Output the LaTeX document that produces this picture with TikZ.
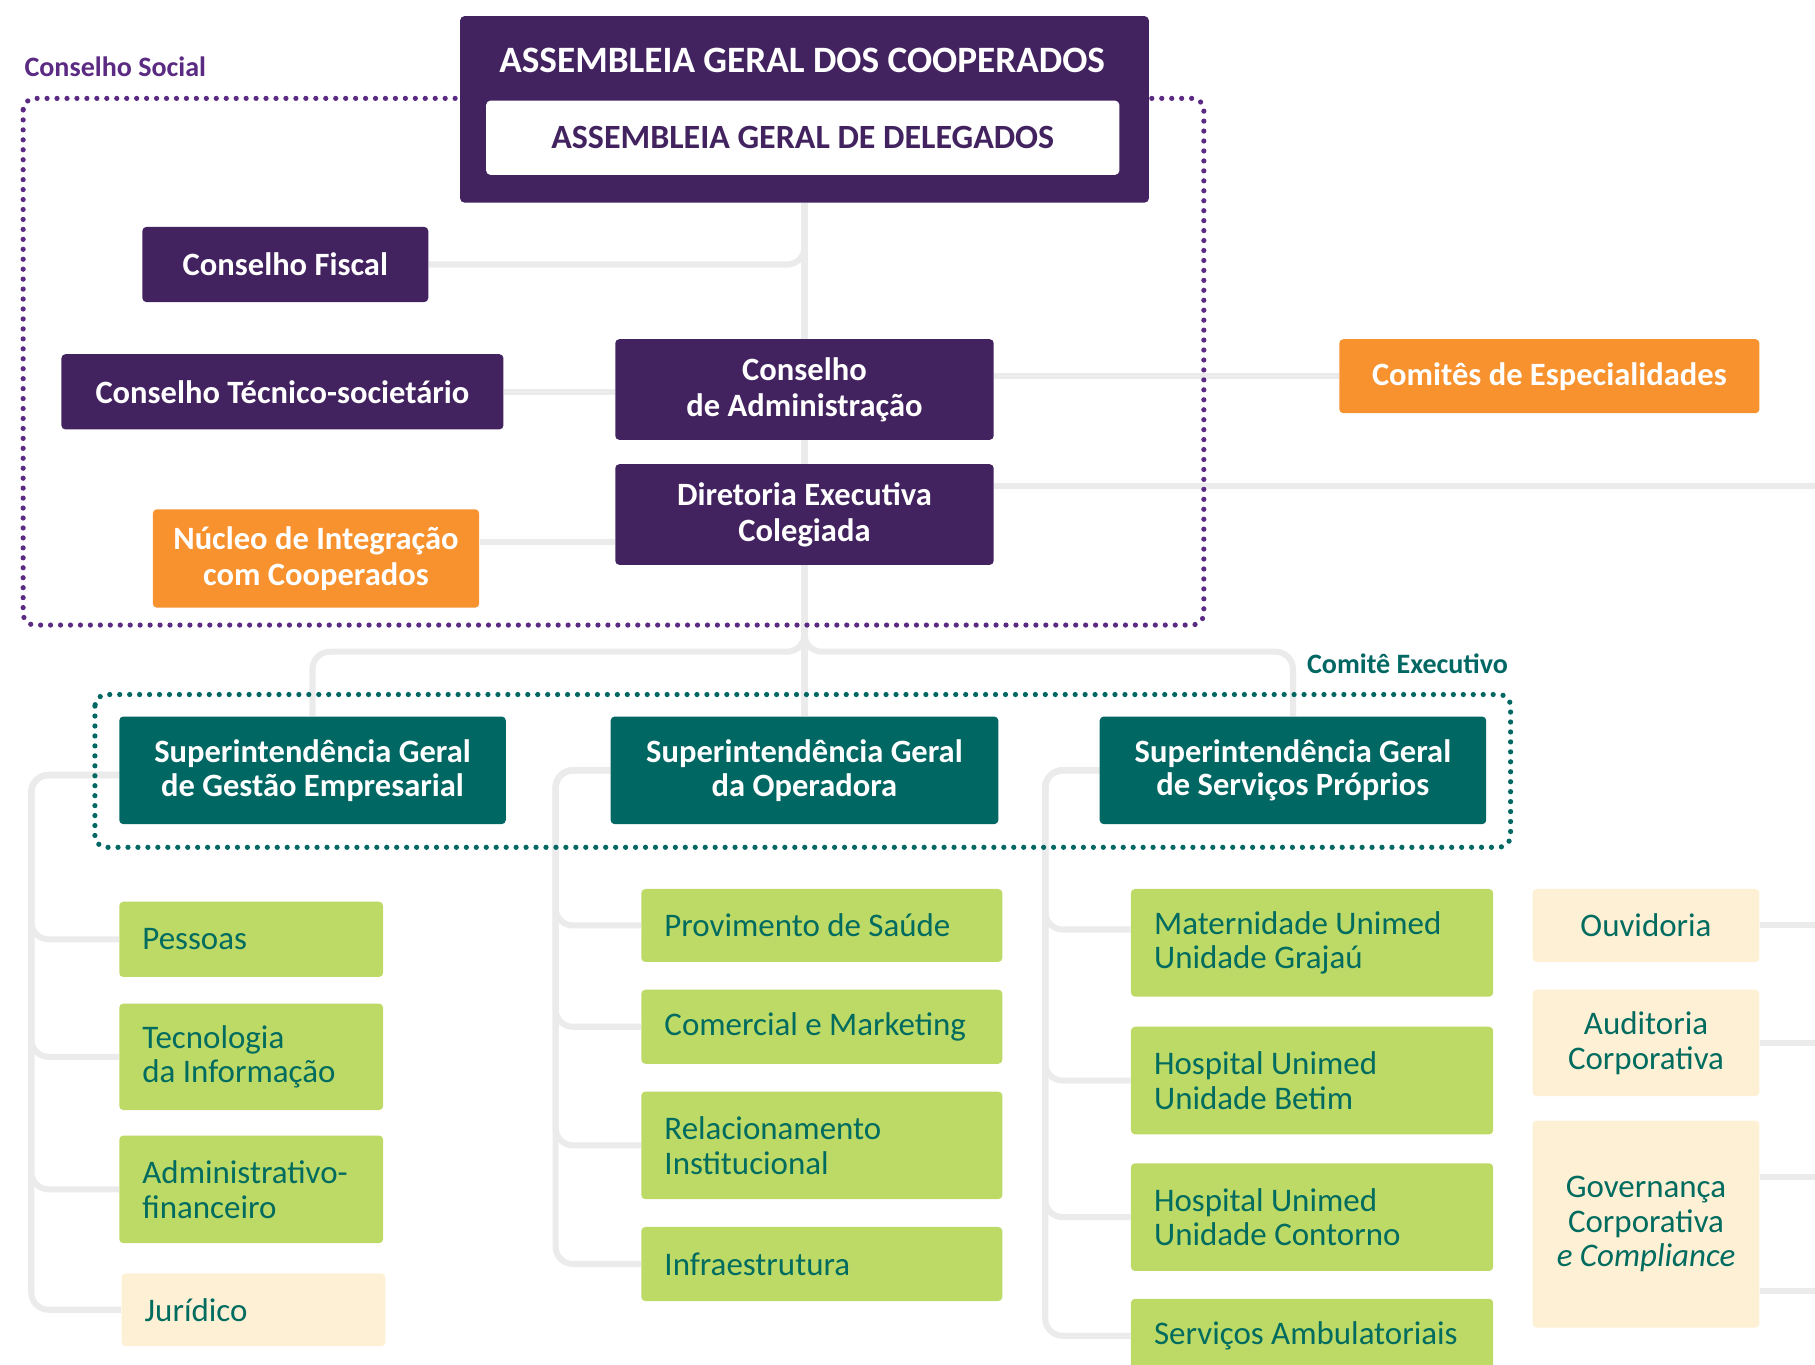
\documentclass[tikz,border=0pt]{standalone}
\usepackage{fontspec}
\setmainfont{Carlito}
\usepackage{tikz}
\usetikzlibrary{backgrounds}
\definecolor{boardpurple}{HTML}{42235F}
\definecolor{socialpurple}{HTML}{5B2A82}
\definecolor{uniorange}{HTML}{F8922F}
\definecolor{uniteal}{HTML}{006763}
\definecolor{unigreen}{HTML}{BDD966}
\definecolor{greentext}{HTML}{006B5F}
\definecolor{cream}{HTML}{FEF0D4}
\definecolor{linkgray}{HTML}{EBEBEC}
\tikzset{
box/.style={ % Sets the properties for each box
rounded corners=0.07cm,
inner sep=0pt,
align=flush center},
board/.style={box, fill=boardpurple, text=white,
font=\fontsize{16}{17.6}\selectfont\bfseries},
orangebox/.style={board, fill=uniorange},
superbox/.style={board, fill=uniteal, font=\fontsize{16}{16.6}\selectfont\bfseries},
unitbox/.style={box, fill=unigreen, text=greentext, align=flush left, % Green units, text to the left
inner xsep=0.4cm, text width=#1,
font=\fontsize{16.2}{17.1}\selectfont},
staffbox/.style={box, fill=cream, text=greentext, minimum width=3.92cm,
font=\fontsize{16.2}{17.1}\selectfont},
titletext/.style={text=white, font=\fontsize{18.3}{20}\selectfont\bfseries},
delegbox/.style={box, fill=white, text=boardpurple,
font=\fontsize{16.7}{18}\selectfont\bfseries},
grouplabel/.style={anchor=west, font=\fontsize{13.8}{16}\selectfont\bfseries},
link/.style={ % Sets the properties for each connector
draw=linkgray,
line width=0.105cm,
rounded corners=0.3cm},
dotframe/.style={line width=0.09cm, line cap=round,
dash pattern=on 0pt off 0.172cm, rounded corners=0.2cm}
}

\begin{document}
\begin{tikzpicture}[x=0.02cm, y=-0.02cm]
\useasboundingbox (0,0) rectangle (1568,1179);
\clip (0,0) rectangle (1568,1179);

\node[board, minimum width=11.9cm, minimum height=3.22cm] (ago) at (695,94.5) {};
\node[titletext] (agotitle) at (693,52) {ASSEMBLEIA GERAL DOS COOPERADOS};
\node[delegbox, minimum width=10.94cm, minimum height=1.28cm] (agd) at (693.5,119) {ASSEMBLEIA GERAL DE DELEGADOS};
\node[board, minimum width=4.94cm, minimum height=1.3cm] (cf) at (246.5,228.5) {Conselho Fiscal};
\node[board, minimum width=7.64cm, minimum height=1.3cm] (cts) at (244,338.5) {Conselho Técnico-societário};
\node[board, minimum width=6.54cm, minimum height=1.74cm] (cad) at (695,336.5) {Conselho\\de Administração};
\node[orangebox, minimum width=7.26cm, minimum height=1.28cm] (ces) at (1338.5,325) {Comitês de Especialidades};
\node[board, minimum width=6.54cm, minimum height=1.74cm] (dec) at (695,444.5) {Diretoria Executiva\\Colegiada};
\node[orangebox, minimum width=5.64cm, minimum height=1.7cm] (nic) at (273,482.5) {Núcleo de Integração\\com Cooperados};

\node[grouplabel, text=socialpurple] (social) at (15,58) {Conselho Social};
\node[grouplabel, text=uniteal] (executivo) at (1123,573) {Comitê Executivo};

\node[superbox, minimum width=6.68cm, minimum height=1.86cm] (sge) at (270,665.5) {Superintendência Geral\\de Gestão Empresarial};
\node[superbox, minimum width=6.7cm, minimum height=1.86cm] (sgo) at (695,665.5) {Superintendência Geral\\da Operadora};
\node[superbox, minimum width=6.68cm, minimum height=1.86cm] (ssp) at (1117,665.5) {Superintendência Geral\\de Serviços Próprios};

\node[unitbox=3.76cm, minimum height=1.3cm] (pes) at (217,811.5) {Pessoas};
\node[unitbox=3.76cm, minimum height=1.84cm] (ti) at (217,913) {Tecnologia\\da Informação};
\node[unitbox=3.76cm, minimum height=1.86cm] (adm) at (217,1027.5) {Administrativo-\\financeiro};
\node[staffbox, minimum width=4.56cm, minimum height=1.26cm, align=flush left, inner xsep=0.4cm, text width=3.76cm] (jur) at (219,1131.5) {Jurídico};

\node[unitbox=5.44cm, minimum height=1.26cm] (pro) at (710,799.5) {Provimento de Saúde};
\node[unitbox=5.44cm, minimum height=1.28cm] (com) at (710,887) {Comercial e Marketing};
\node[unitbox=5.44cm, minimum height=1.86cm] (rel) at (710,989.5) {Relacionamento\\Institucional};
\node[unitbox=5.44cm, minimum height=1.28cm] (inf) at (710,1092) {Infraestrutura};

\node[unitbox=5.46cm, minimum height=1.86cm] (mat) at (1133.5,814.5) {Maternidade Unimed\\Unidade Grajaú};
\node[unitbox=5.46cm, minimum height=1.86cm] (hub) at (1133.5,933.5) {Hospital Unimed\\Unidade Betim};
\node[unitbox=5.46cm, minimum height=1.86cm] (huc) at (1133.5,1051.5) {Hospital Unimed\\Unidade Contorno};
\node[unitbox=5.46cm, minimum height=1.28cm] (sam) at (1133.5,1154) {Serviços Ambulatoriais};

\node[staffbox, minimum height=1.26cm] (ouv) at (1422,799.5) {Ouvidoria};
\node[staffbox, minimum height=1.84cm] (aud) at (1422,901) {Auditoria\\Corporativa};
\node[staffbox, minimum height=3.58cm] (gov) at (1422,1057.5) {Governança\\Corporativa\\\textit{e Compliance}};

\coordinate (split) at (695,563);
\coordinate (gl) at (27,700);
\coordinate (ol) at (480,700);
\coordinate (sl) at (903,700);
\coordinate (edgeR) at (1568,0);
\coordinate (matin) at ([yshift=0.23cm]mat.west);

\begin{pgfonlayer}{background}
\draw[link] (ago.south) -- (cad.north);
\draw[link] (ago.south) |- (cf.east);
\draw[link] (cts.east) -- (cts.east -| cad.west);
\draw[link] (cad.south) -- (dec.north);
\draw[link] (ces.west) -- (ces.west -| cad.east);
\draw[link] ([yshift=0.49cm]dec.east) -- ([yshift=0.49cm]dec.east -| edgeR);
\draw[link] ([yshift=0.29cm]nic.east) -- ([yshift=0.29cm]nic.east -| dec.west);
\draw[link] (dec.south) -- (sgo.north);
\draw[link] (dec.south) |- (sge.north |- split) -- (sge.north);
\draw[link] (dec.south) |- (ssp.north |- split) -- (ssp.north);
\foreach \u in {pes,ti,adm,jur}
  \draw[link] ([yshift=-0.08cm]sge.west) -| (gl |- \u.west) -- (\u.west);
\foreach \u in {pro,com,rel,inf}
  \draw[link] (sgo.west) -| (ol |- \u.west) -- (\u.west);
\draw[link] (ssp.west) -| (sl |- matin) -- (matin);
\foreach \u in {hub,huc,sam}
  \draw[link] (ssp.west) -| (sl |- \u.west) -- (\u.west);
\draw[link] (ouv.east) -- (ouv.east -| edgeR);
\draw[link] (aud.east) -- (aud.east -| edgeR);
\draw[link] ([yshift=0.81cm]gov.east) -- ([yshift=0.81cm]gov.east -| edgeR);
\draw[link] ([yshift=-1.15cm]gov.east) -- ([yshift=-1.15cm]gov.east -| edgeR);
\draw[dotframe, socialpurple] (20,85) rectangle (1040,540);
\draw[dotframe, uniteal] (82,600) rectangle (1305,732);
\end{pgfonlayer}
\end{tikzpicture}
\end{document}
